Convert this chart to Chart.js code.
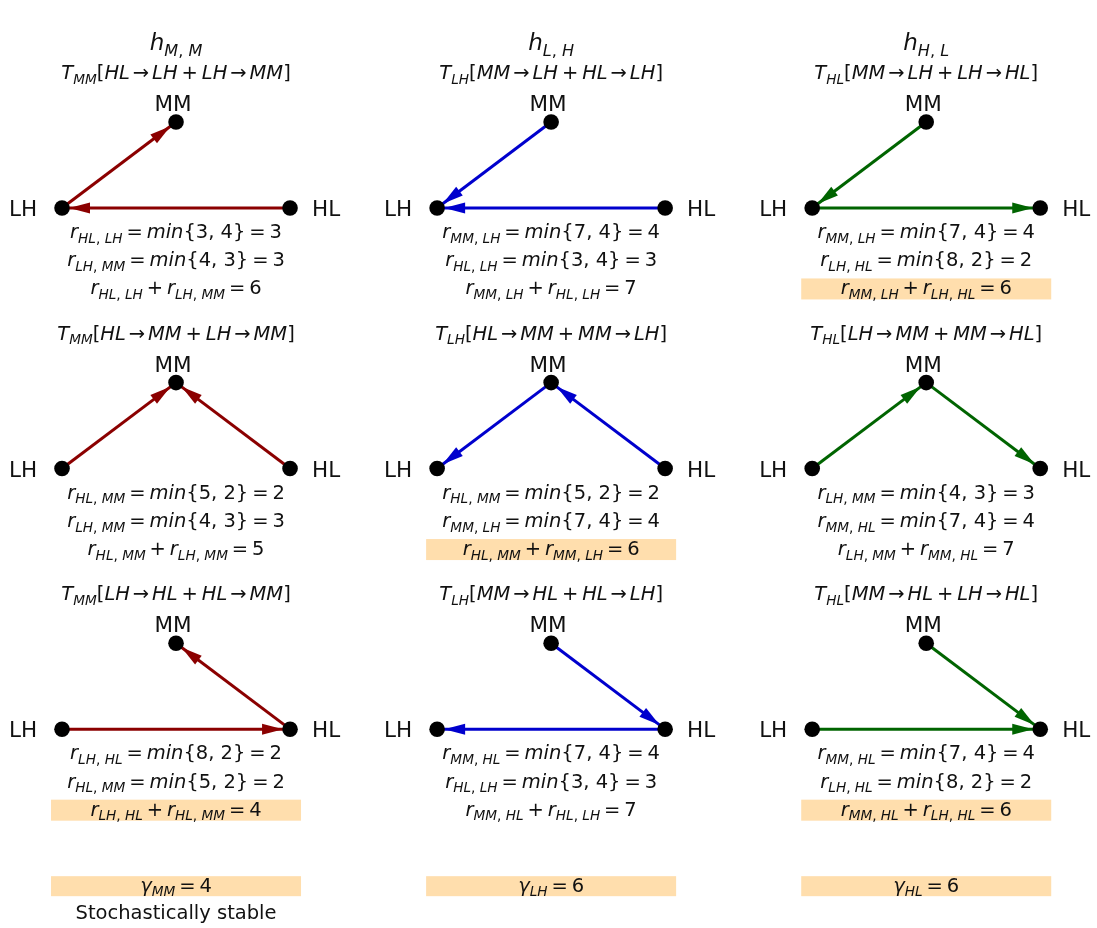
<!DOCTYPE html>
<html>
<head>
<meta charset="utf-8">
<script src="https://cdn.jsdelivr.net/npm/chart.js@4/dist/chart.umd.min.js"></script>
<style>
  html, body { margin: 0; padding: 0; background: #fff; }
  canvas { display: block; }
</style>
</head>
<body>
<canvas id="graphs" width="1097" height="928"></canvas>
<script>
// --- data ---
// one column per root state, three spanning trees per column, two transitions per tree
const roots = ['MM', 'LH', 'HL'];
const titleSubs = [['M', 'M'], ['L', 'H'], ['H', 'L']];
const treesMM = [[['HL', 'LH'], ['LH', 'MM']], [['HL', 'MM'], ['LH', 'MM']], [['LH', 'HL'], ['HL', 'MM']]];
const treesLH = [[['MM', 'LH'], ['HL', 'LH']], [['HL', 'MM'], ['MM', 'LH']], [['MM', 'HL'], ['HL', 'LH']]];
const treesHL = [[['MM', 'LH'], ['LH', 'HL']], [['LH', 'MM'], ['MM', 'HL']], [['MM', 'HL'], ['LH', 'HL']]];
const trees = [treesMM, treesLH, treesHL];

// resistance of each transition r = min{a, b}
const edgeFrom = ['HL', 'LH', 'HL', 'LH', 'MM', 'MM'];
const edgeTo   = ['LH', 'MM', 'MM', 'HL', 'LH', 'HL'];
const edgeA    = [3, 4, 5, 8, 7, 7];
const edgeB    = [4, 3, 2, 2, 4, 4];

const stableText = 'Stochastically stable';

// --- layout / style ---
const colours = ['#8b0000', '#0000cd', '#006400'];
const highlight = '#ffdead';
const nodePos = { LH: [0, 0], MM: [0.5, 0.377], HL: [1, 0] };
const COL_STEP = 1.645, ROW_STEP = 1.143;
const FONT = '"DejaVu Sans", sans-serif';
const EQ = 19.5;

function cost(f, t) {
  for (let i = 0; i < edgeFrom.length; i++) {
    if (edgeFrom[i] === f && edgeTo[i] === t) return [edgeA[i], edgeB[i]];
  }
  return [0, 0];
}
function resist(e) { const c = cost(e[0], e[1]); return Math.min(c[0], c[1]); }

const sums = trees.map(col => col.map(t => resist(t[0]) + resist(t[1])));
const gammas = sums.map(s => Math.min(...s));
const bestGamma = Math.min(...gammas);

// --- datasets ---
const nodePoints = [];
const datasets = [];
trees.forEach((col, c) => {
  col.forEach((tree, r) => {
    const ox = c * COL_STEP, oy = -r * ROW_STEP;
    Object.keys(nodePos).forEach(s => {
      nodePoints.push({ x: ox + nodePos[s][0], y: oy + nodePos[s][1] });
    });
    tree.forEach(e => {
      datasets.push({
        isEdge: true,
        data: [
          { x: ox + nodePos[e[0]][0], y: oy + nodePos[e[0]][1] },
          { x: ox + nodePos[e[1]][0], y: oy + nodePos[e[1]][1] }
        ],
        showLine: true,
        borderColor: colours[c],
        borderWidth: 3,
        pointRadius: 0
      });
    });
  });
});
datasets.unshift({
  data: nodePoints,
  pointRadius: 7.8,
  pointBackgroundColor: '#000',
  pointBorderWidth: 0,
  showLine: false
});

// --- little mathtext helper ---
const I = t => ({ t, it: true });
const R = t => ({ t, it: false });
const S = t => ({ t, it: true, sub: true });
const SR = t => ({ t, it: false, sub: true });
const G = em => ({ gap: em });
const OP = t => [G(0.2), R(t), G(0.2)];
const AR = [G(0.15), R('\u2192'), G(0.15)];
const rTerm = e => [I('r'), S(e[0]), SR(', '), S(e[1])];

function fontFor(s, size) {
  return (s.it ? 'italic ' : '') + (s.sub ? size * 0.7 : size) + 'px ' + FONT;
}
function segWidth(ctx, s, size) {
  if (s.gap) return s.gap * size;
  ctx.font = fontFor(s, size);
  return ctx.measureText(s.t).width;
}
function drawMath(ctx, segs, cx, cy, size) {
  let total = 0;
  segs.forEach(s => { total += segWidth(ctx, s, size); });
  let x = cx - total / 2;
  const base = cy + size * 0.36;
  segs.forEach(s => {
    const w = segWidth(ctx, s, size);
    if (!s.gap) ctx.fillText(s.t, x, base + (s.sub ? size * 0.24 : 0));
    x += w;
  });
}

const arrowHeads = {
  id: 'arrowHeads',
  afterDatasetsDraw(chart) {
    const ctx = chart.ctx;
    chart.data.datasets.forEach((ds, i) => {
      if (!ds.isEdge) return;
      const pts = chart.getDatasetMeta(i).data;
      const a = pts[0], b = pts[1];
      const ang = Math.atan2(b.y - a.y, b.x - a.x);
      ctx.save();
      ctx.translate(b.x - Math.cos(ang) * 7, b.y - Math.sin(ang) * 7);
      ctx.rotate(ang);
      ctx.beginPath();
      ctx.moveTo(0, 0);
      ctx.lineTo(-21, 5.5);
      ctx.lineTo(-21, -5.5);
      ctx.closePath();
      ctx.fillStyle = ds.borderColor;
      ctx.fill();
      ctx.restore();
    });
  }
};

const texts = {
  id: 'texts',
  afterDraw(chart) {
    const ctx = chart.ctx;
    const xs = chart.scales.x, ys = chart.scales.y;
    ctx.save();
    ctx.fillStyle = '#111';
    ctx.textAlign = 'left';
    ctx.textBaseline = 'alphabetic';
    trees.forEach((col, c) => {
      const cx = xs.getPixelForValue(c * COL_STEP + 0.5);
      const sub = roots[c];
      // column title
      const t0 = ys.getPixelForValue(0);
      drawMath(ctx, [I('h'), S(titleSubs[c][0]), SR(', '), S(titleSubs[c][1])], cx, t0 - 166, 23);

      col.forEach((tree, r) => {
        const by = ys.getPixelForValue(-r * ROW_STEP);
        const lx = xs.getPixelForValue(c * COL_STEP);
        const hx = xs.getPixelForValue(c * COL_STEP + 1);
        const mx = xs.getPixelForValue(c * COL_STEP + 0.5);

        // T label
        const seg = [I('T'), S(sub), R('[')];
        tree.forEach((e, k) => {
          if (k) seg.push(...OP('+'));
          seg.push(I(e[0]), ...AR, I(e[1]));
        });
        seg.push(R(']'));
        drawMath(ctx, seg, cx, by - 136, EQ);

        // node labels
        ctx.font = '21.5px ' + FONT;
        ctx.textAlign = 'center';
        ctx.fillText('MM', mx - 3, by - 97);
        ctx.fillText('LH', lx - 39, by + 8);
        ctx.fillText('HL', hx + 36, by + 8);
        ctx.textAlign = 'left';

        // resistances
        tree.forEach((e, k) => {
          const c2 = cost(e[0], e[1]);
          drawMath(ctx, [...rTerm(e), ...OP('='), I('min'), R('{' + c2[0] + ', ' + c2[1] + '}'), ...OP('='), R(String(resist(e)))],
            cx, by + 23 + 28.5 * k, EQ);
        });
        const sumY = by + 81;
        if (sums[c][r] === gammas[c]) {
          ctx.fillStyle = highlight;
          ctx.fillRect(cx - 125, sumY - 10.5, 250, 21);
          ctx.fillStyle = '#111';
        }
        drawMath(ctx, [...rTerm(tree[0]), ...OP('+'), ...rTerm(tree[1]), ...OP('='), R(String(sums[c][r]))], cx, sumY - 1.5, EQ);
      });

      // gamma
      const gy = ys.getPixelForValue(-2 * ROW_STEP) + 157;
      ctx.fillStyle = highlight;
      ctx.fillRect(cx - 125, gy - 10, 250, 20);
      ctx.fillStyle = '#111';
      drawMath(ctx, [I('\u03b3'), S(sub), ...OP('='), R(String(gammas[c]))], cx, gy - 1.5, EQ);
      if (gammas[c] === bestGamma) {
        ctx.font = '19.5px ' + FONT;
        ctx.textAlign = 'center';
        ctx.fillText(stableText, cx, gy + 33);
        ctx.textAlign = 'left';
      }
    });
    ctx.restore();
  }
};

new Chart(document.getElementById('graphs'), {
  type: 'scatter',
  data: { datasets },
  options: {
    responsive: false,
    animation: false,
    devicePixelRatio: 1,
    layout: { padding: 0, autoPadding: false },
    plugins: { legend: { display: false }, tooltip: { enabled: false } },
    scales: {
      x: { type: 'linear', display: false, min: -0.272, max: 4.539 },
      y: { type: 'linear', display: false, min: -3.158, max: 0.912 }
    }
  },
  plugins: [arrowHeads, texts]
});
</script>
</body>
</html>
